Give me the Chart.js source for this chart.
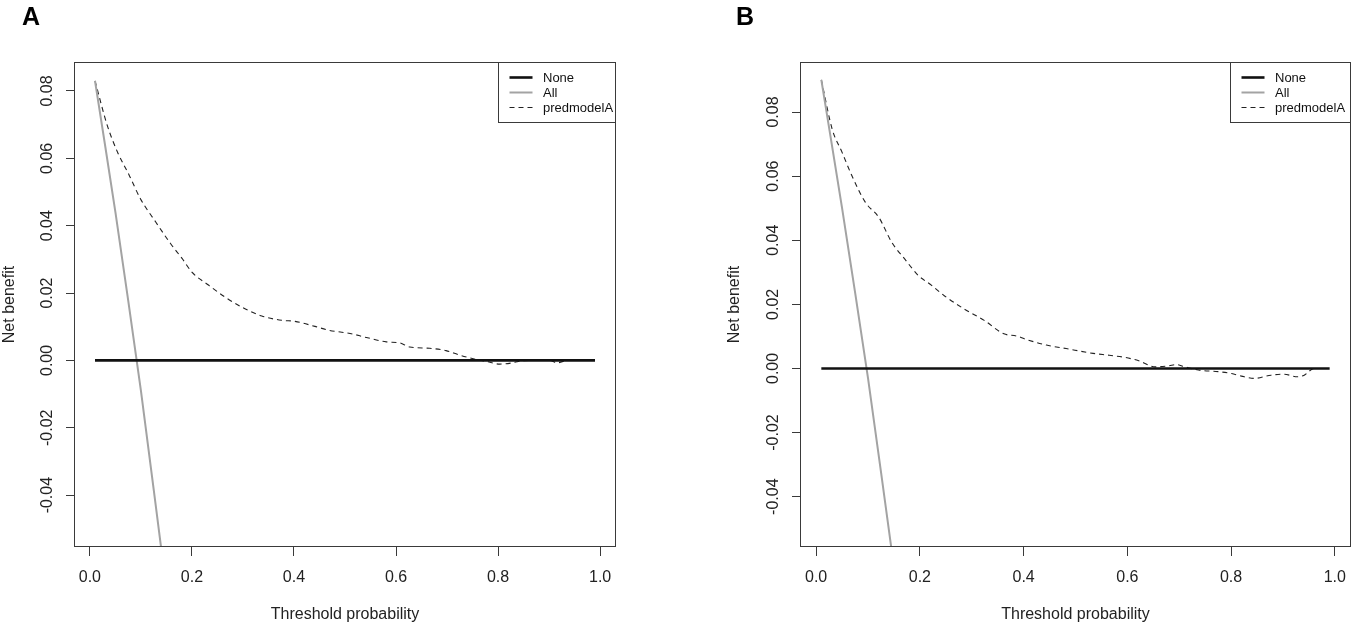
<!DOCTYPE html>
<html>
<head>
<meta charset="utf-8">
<script src="https://cdn.jsdelivr.net/npm/chart.js@4.4.1/dist/chart.umd.min.js"></script>
<style>
  body { margin: 0; background: #fff; }
  #wrap { position: relative; width: 1358px; height: 624px; overflow: hidden; }
  canvas { position: absolute; top: 0; }
  .panel { position: absolute; top: 4px; font: bold 25px "Liberation Sans", Arial, sans-serif; line-height: 25px; color: #000; }
</style>
</head>
<body>
<div id="wrap">
  <canvas id="chartA" width="680" height="624" style="left:0px"></canvas>
  <canvas id="chartB" width="678" height="624" style="left:680px"></canvas>
  <div class="panel" style="left:22px">A</div>
  <div class="panel" style="left:736px">B</div>
</div>
<script>
// axis ticks
const xTickValues = [0, 0.2, 0.4, 0.6, 0.8, 1.0];
const xTickLabels = ['0.0', '0.2', '0.4', '0.6', '0.8', '1.0'];
const yTickValues = [-0.04, -0.02, 0, 0.02, 0.04, 0.06, 0.08];
const yTickLabels = ['-0.04', '-0.02', '0.00', '0.02', '0.04', '0.06', '0.08'];
const seriesNames = ['None', 'All', 'predmodelA'];

// axis limits (R style 4% extension)
const xLimits = [-0.0292, 1.0292];
const yLimitsA = [-0.0554, 0.0886];
const yLimitsB = [-0.0557, 0.0956];

// "None" strategy
const noneThreshold = [0.01, 0.99];
const noneBenefit = [0, 0];

// panel A
const allThresholdA = [0.01, 0.05, 0.10, 0.15];
const allBenefitA = [0.083, 0.044, -0.009, -0.068];
const modelThresholdA = [0.01, 0.034, 0.054, 0.077, 0.099, 0.129, 0.158, 0.181, 0.200,
  0.233, 0.265, 0.298, 0.337, 0.376, 0.402, 0.441, 0.470, 0.510, 0.542,
  0.581, 0.607, 0.627, 0.666, 0.698, 0.724, 0.757, 0.777, 0.803, 0.829,
  0.848, 0.870, 0.900, 0.916, 0.933];
const modelBenefitA = [0.0830, 0.0698, 0.0619, 0.0550, 0.0480, 0.0411, 0.0347, 0.0302, 0.0262,
  0.0223, 0.0188, 0.0158, 0.0132, 0.0119, 0.0116, 0.0101, 0.0089, 0.0080, 0.0068,
  0.0055, 0.0052, 0.0040, 0.0036, 0.0029, 0.0016, 0.0003, -0.0003, -0.0011, -0.0007,
  -0.0001, 0.0000, 0.0000, -0.0007, 0.0000];

// panel B
const allThresholdB = [0.01, 0.05, 0.10, 0.15];
const allBenefitB = [0.090, 0.050, -0.003, -0.062];
const modelThresholdB = [0.01, 0.031, 0.050, 0.069, 0.095, 0.121, 0.146, 0.171, 0.197, 0.222,
  0.247, 0.285, 0.324, 0.362, 0.387, 0.406, 0.444, 0.482, 0.534, 0.565,
  0.597, 0.622, 0.654, 0.679, 0.695, 0.711, 0.737, 0.775, 0.801, 0.820,
  0.845, 0.877, 0.902, 0.928, 0.941, 0.960, 0.970];
const modelBenefitB = [0.0900, 0.0746, 0.0674, 0.0601, 0.0518, 0.0471, 0.0393, 0.0341, 0.0290, 0.0260,
  0.0227, 0.0186, 0.0150, 0.0108, 0.0101, 0.0090, 0.0073, 0.0062, 0.0047, 0.0041,
  0.0034, 0.0024, 0.0005, 0.0008, 0.0012, 0.0005, -0.0005, -0.0010, -0.0016, -0.0024,
  -0.0031, -0.0021, -0.0018, -0.0026, -0.0021, 0.0000, 0.0000];

const FONT = '"Liberation Sans", Arial, sans-serif';

function points(xs, ys) {
  return xs.map((x, i) => ({x: x, y: ys[i]}));
}

// box round the plot region
const plotBox = {
  id: 'plotBox',
  afterDraw(chart) {
    const {ctx, chartArea} = chart;
    ctx.save();
    ctx.strokeStyle = '#3a3a3a';
    ctx.lineWidth = 1;
    ctx.strokeRect(Math.round(chartArea.left) - 0.5, Math.round(chartArea.top) + 0.5,
      Math.round(chartArea.width) + 1, Math.round(chartArea.height) - 1);
    ctx.restore();
  }
};

// legend inside top-right corner, like R's legend("topright")
const insetLegend = {
  id: 'insetLegend',
  afterDatasetsDraw(chart, args, opts) {
    const {ctx, chartArea} = chart;
    const left = Math.round(chartArea.right - opts.width) + 0.5;
    const top = Math.round(chartArea.top) + 0.5;
    ctx.save();
    ctx.fillStyle = '#fff';
    ctx.fillRect(left, top, opts.width, opts.height);
    ctx.strokeStyle = '#3a3a3a';
    ctx.lineWidth = 1;
    ctx.strokeRect(left, top, opts.width, opts.height);
    ctx.font = '13px ' + FONT;
    ctx.textBaseline = 'middle';
    chart.data.datasets.forEach((ds, i) => {
      const y = top + opts.firstRow + i * opts.rowGap;
      ctx.beginPath();
      ctx.setLineDash(ds.borderDash || []);
      ctx.strokeStyle = ds.borderColor;
      ctx.lineWidth = ds.borderWidth;
      ctx.moveTo(left + opts.lineStart, y - 1);
      ctx.lineTo(left + opts.lineEnd, y - 1);
      ctx.stroke();
      ctx.setLineDash([]);
      ctx.fillStyle = '#111';
      ctx.fillText(ds.label, left + opts.textStart, y);
    });
    ctx.restore();
  }
};

function makeChart(id, allX, allY, modelX, modelY, yLimits, pad, yAxisWidth, legendWidth) {
  return new Chart(id, {
    type: 'line',
    data: {
      datasets: [
        {label: seriesNames[0], data: points(noneThreshold, noneBenefit),
          borderColor: '#111', borderWidth: 2.6, pointRadius: 0, fill: false},
        {label: seriesNames[1], data: points(allX, allY),
          borderColor: '#a3a3a3', borderWidth: 2, pointRadius: 0, fill: false, tension: 0.2},
        {label: seriesNames[2], data: points(modelX, modelY),
          borderColor: '#222', borderWidth: 1.1, borderDash: [5, 4], pointRadius: 0, fill: false,
          cubicInterpolationMode: 'monotone'}
      ]
    },
    options: {
      responsive: false,
      animation: false,
      events: [],
      layout: {padding: pad},
      plugins: {
        legend: {display: false},
        tooltip: {enabled: false},
        insetLegend: {width: legendWidth, height: 60, firstRow: 16, rowGap: 15,
          lineStart: 11, lineEnd: 34, textStart: 44.5}
      },
      scales: {
        x: {
          type: 'linear',
          min: xLimits[0],
          max: xLimits[1],
          afterBuildTicks: s => { s.ticks = xTickValues.map(v => ({value: v})); },
          afterFit: s => { s.height = 77; },
          border: {display: false},
          grid: {drawOnChartArea: false, drawTicks: true, tickLength: 9, color: '#3a3a3a'},
          ticks: {
            callback: (v, i) => xTickLabels[i],
            padding: 12,
            maxRotation: 0,
            autoSkip: false,
            color: '#222',
            font: {family: FONT, size: 16}
          },
          title: {display: true, text: 'Threshold probability', color: '#222',
            padding: 0, font: {family: FONT, size: 16}}
        },
        y: {
          type: 'linear',
          min: yLimits[0],
          max: yLimits[1],
          afterBuildTicks: s => { s.ticks = yTickValues.map(v => ({value: v})); },
          afterFit: s => { s.width = yAxisWidth; },
          border: {display: false},
          grid: {drawOnChartArea: false, drawTicks: true, tickLength: 9, color: '#3a3a3a'},
          ticks: {
            callback: (v, i) => yTickLabels[i],
            minRotation: 90,
            maxRotation: 90,
            crossAlign: 'center',
            padding: 0,
            autoSkip: false,
            color: '#222',
            font: {family: FONT, size: 16}
          },
          title: {display: true, text: 'Net benefit', color: '#222',
            padding: 0, font: {family: FONT, size: 16}}
        }
      }
    },
    plugins: [plotBox, insetLegend]
  });
}

makeChart('chartA', allThresholdA, allBenefitA, modelThresholdA, modelBenefitA, yLimitsA,
  {top: 62, right: 65, bottom: 0, left: 0}, 75, 117);
makeChart('chartB', allThresholdB, allBenefitB, modelThresholdB, modelBenefitB, yLimitsB,
  {top: 62, right: 2, bottom: 0, left: 45}, 76, 120);
</script>
</body>
</html>
